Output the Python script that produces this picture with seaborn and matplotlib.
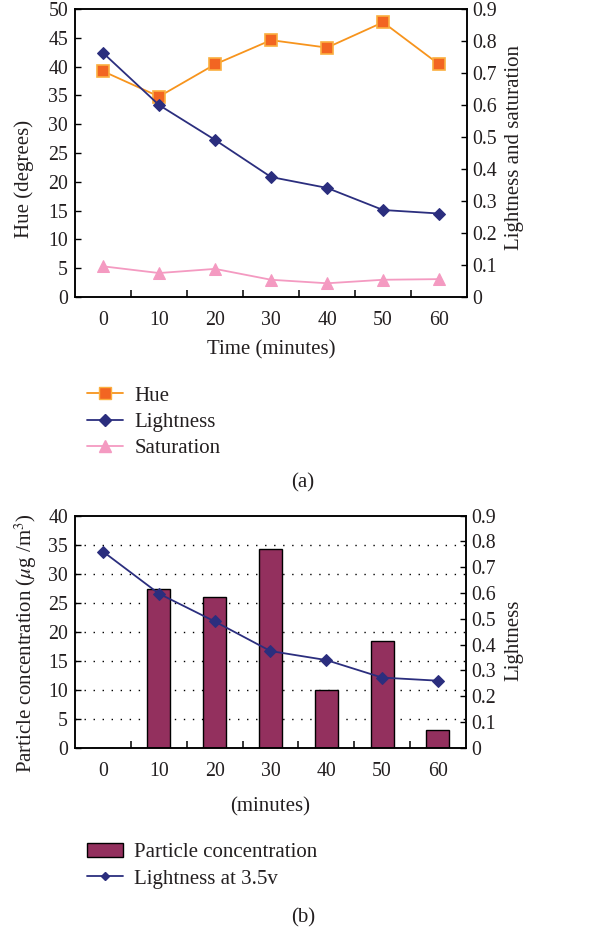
import numpy as np
import pandas as pd
import matplotlib
matplotlib.use("Agg")
import matplotlib.pyplot as plt
import seaborn as sns
from matplotlib.patches import Patch
from matplotlib.lines import Line2D

# ---- data ----
times = ["0", "10", "20", "30", "40", "50", "60"]
hue = [39.2, 34.8, 40.4, 44.6, 43.3, 47.7, 40.4]
lightness = [0.763, 0.600, 0.491, 0.375, 0.341, 0.272, 0.261]
saturation = [0.096, 0.075, 0.088, 0.054, 0.043, 0.054, 0.056]
concentration = [0.0, 27.4, 25.9, 34.2, 9.9, 18.4, 3.05]
lightness_35v = [0.761, 0.598, 0.490, 0.375, 0.340, 0.272, 0.260]

left_ticks_a = [0, 5, 10, 15, 20, 25, 30, 35, 40, 45, 50]
right_ticks = [0, 0.1, 0.2, 0.3, 0.4, 0.5, 0.6, 0.7, 0.8, 0.9]
right_labels = ["0", "0.1", "0.2", "0.3", "0.4", "0.5", "0.6", "0.7", "0.8", "0.9"]
left_ticks_b = [0, 5, 10, 15, 20, 25, 30, 35, 40]

sns.set_theme(style="white")
TXT = "#231F20"
plt.rcParams["font.family"] = ["Liberation Serif", "DejaVu Serif"]
plt.rcParams["mathtext.fontset"] = "stix"
plt.rcParams["text.color"] = TXT
plt.rcParams["axes.labelcolor"] = TXT
plt.rcParams["xtick.color"] = TXT
plt.rcParams["ytick.color"] = TXT

FS = 15
TFS = 14.3
ORANGE_LINE = "#F7941D"
ORANGE_FACE = "#F26522"
ORANGE_EDGE = "#FBAF3F"
NAVY = "#2B2E7E"
PINK = "#F49AC1"
MAROON = "#93305E"

fig = plt.figure(figsize=(6.05, 9.30), dpi=100)

def style_axes(ax, ax2):
    for a in (ax, ax2):
        for s in a.spines.values():
            s.set_color("black")
            s.set_linewidth(1.1)
    ax.set_xlim(-0.5, 6.5)
    ax.set_xticks(range(len(times)))
    ax.set_xticklabels(times)
    ax.set_xticks([i + 0.5 for i in range(len(times) - 1)], minor=True)
    ax.tick_params(axis="x", which="major", length=0, pad=10, labelsize=TFS)
    ax.tick_params(axis="x", which="minor", direction="in", length=5, width=1.1, color="black", bottom=True)
    ax.tick_params(axis="y", direction="in", length=4, width=1, color="black", pad=5, labelsize=TFS, left=True)
    ax2.tick_params(axis="y", direction="in", length=4, width=1, color="black", pad=4, labelsize=TFS, right=True)

# ---------------- (a) ----------------
axa = fig.add_axes([0.124, 0.6806, 0.648, 0.3097])
axa2 = axa.twinx()
dfa = pd.DataFrame({"time": times, "hue": hue, "light": lightness, "sat": saturation})
sns.lineplot(data=dfa, x="time", y="hue", ax=axa, color=ORANGE_LINE, lw=1.3, marker="s",
             markersize=8, markerfacecolor=ORANGE_FACE, markeredgecolor=ORANGE_EDGE,
             markeredgewidth=1.2, sort=False)
sns.lineplot(data=dfa, x="time", y="light", ax=axa2, color=NAVY, lw=1.3, marker="D",
             markersize=6.5, markerfacecolor=NAVY, markeredgecolor=NAVY, sort=False)
sns.lineplot(data=dfa, x="time", y="sat", ax=axa2, color=PINK, lw=1.3, marker="^",
             markersize=8, markerfacecolor=PINK, markeredgecolor=PINK, sort=False)
axa.set_ylim(0, 50)
axa.set_yticks(left_ticks_a)
axa2.set_ylim(0, 0.9)
axa2.set_yticks(right_ticks)
axa2.set_yticklabels(right_labels)
style_axes(axa, axa2)
axa.set_xlabel("Time (minutes)", fontsize=FS)
axa.xaxis.set_label_coords(0.5, -0.150)
axa.set_ylabel("Hue (degrees)", fontsize=FS)
axa.yaxis.set_label_coords(-0.104, 0.41)
axa2.set_ylabel("Lightness and saturation", fontsize=FS, rotation=90)
axa2.yaxis.set_label_coords(1.096, 0.52)

handles_a = [
    Line2D([], [], color=ORANGE_LINE, lw=1.3, marker="s", markersize=8,
           markerfacecolor=ORANGE_FACE, markeredgecolor=ORANGE_EDGE),
    Line2D([], [], color=NAVY, lw=1.3, marker="D", markersize=6.5),
    Line2D([], [], color=PINK, lw=1.3, marker="^", markersize=8),
]
fig.legend(handles_a, ["Hue", "Lightness", "Saturation"], loc="upper left",
           bbox_to_anchor=(0.143, 0.585), frameon=False, fontsize=FS,
           handlelength=1.75, handletextpad=0.55, labelspacing=0.33,
           borderpad=0, borderaxespad=0, markerfirst=True)
fig.text(0.501, 0.4806, "(a)", ha="center", va="center", fontsize=FS)

# ---------------- (b) ----------------
axb = fig.add_axes([0.124, 0.196, 0.646, 0.2495])
axb2 = axb.twinx()
dfb = pd.DataFrame({"time": times, "conc": concentration, "light": lightness_35v})
sns.barplot(data=dfb, x="time", y="conc", ax=axb, color=MAROON, saturation=1,
            width=0.41, edgecolor="black", linewidth=1)
sns.lineplot(data=dfb, x="time", y="light", ax=axb2, color=NAVY, lw=1.3, marker="D",
             markersize=6, markerfacecolor=NAVY, markeredgecolor=NAVY, sort=False)
axb.set_ylim(0, 40)
axb.set_yticks(left_ticks_b)
axb2.set_ylim(0, 0.9)
axb2.set_yticks(right_ticks)
axb2.set_yticklabels(right_labels)
for v in left_ticks_b[1:-1]:
    axb.axhline(v, color="black", lw=1.0, ls=(0, (1, 5.5)), zorder=0)
style_axes(axb, axb2)
axb.set_xlabel("(minutes)", fontsize=FS)
axb.xaxis.set_label_coords(0.5, -0.213)
axb.set_ylabel(r"Particle concentration ($\mu$g /m$^3$)", fontsize=FS)
axb.yaxis.set_label_coords(-0.093, 0.45)
axb2.set_ylabel("Lightness", fontsize=FS, rotation=90)
axb2.yaxis.set_label_coords(1.098, 0.465)

handles_b = [
    Patch(facecolor=MAROON, edgecolor="black", linewidth=1),
    Line2D([], [], color=NAVY, lw=1.3, marker="D", markersize=4.5),
]
fig.legend(handles_b, ["Particle concentration", "Lightness at 3.5v"], loc="upper left",
           bbox_to_anchor=(0.143, 0.094), frameon=False, fontsize=FS,
           handlelength=1.75, handletextpad=0.55, labelspacing=0.33,
           borderpad=0, borderaxespad=0)
fig.text(0.501, 0.0129, "(b)", ha="center", va="center", fontsize=FS)

fig.savefig("out.png", dpi=100)
